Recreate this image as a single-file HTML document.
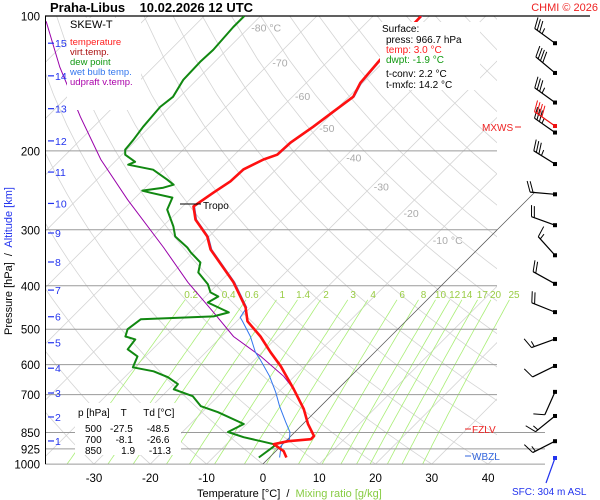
<!DOCTYPE html>
<html><head><meta charset="utf-8"><title>Skew-T Praha-Libus</title>
<style>
html,body{margin:0;padding:0;background:#fff;}
svg{display:block;font-family:"Liberation Sans",sans-serif;}
</style></head>
<body>
<svg id="chart" width="600" height="500" viewBox="0 0 600 500" xmlns="http://www.w3.org/2000/svg">
<defs>
<clipPath id="plotclip"><rect x="45" y="16" width="452" height="448"/></clipPath>
<clipPath id="mixclip"><rect x="45" y="16" width="490" height="448"/></clipPath>
</defs>
<rect x="0" y="0" width="600" height="500" fill="#ffffff"/>
<g id="grid" clip-path="url(#plotclip)"></g>
<g id="mix" clip-path="url(#mixclip)"></g>
<g id="plines"></g>
<g id="isolabels"></g>
<g id="series" clip-path="url(#mixclip)"></g>
<g id="axes"></g>
<g id="winds"></g>

<text x="50" y="12" font-size="13" font-weight="bold" fill="#000">Praha-Libus&#160;&#160;&#160; 10.02.2026 12 UTC</text>
<text x="598" y="11" font-size="11" fill="#ee2222" text-anchor="end">CHMI © 2026</text>

<g>
<rect x="67" y="18" width="74" height="92" fill="#fff"/>
<text x="70" y="28" font-size="11" fill="#000">SKEW-T</text>
<text x="70" y="45" font-size="9.5" fill="#ff2020">temperature</text>
<text x="70" y="55" font-size="9.5" fill="#aa1010">virt.temp.</text>
<text x="70" y="65" font-size="9.5" fill="#119911">dew point</text>
<text x="70" y="75" font-size="9.5" fill="#3377ee">wet bulb temp.</text>
<text x="70" y="85" font-size="9.5" fill="#aa00aa">udpraft v.temp.</text>
</g>

<g>
<rect x="380" y="22" width="100" height="68" fill="#fff"/>
<text x="382" y="32" font-size="10" fill="#000">Surface:</text>
<text x="386" y="43" font-size="10" fill="#000">press: 966.7 hPa</text>
<text x="386" y="53" font-size="10" fill="#ff2020">temp: 3.0 °C</text>
<text x="386" y="63" font-size="10" fill="#119911">dwpt: -1.9 °C</text>
<text x="386" y="77" font-size="10" fill="#000">t-conv: 2.2 °C</text>
<text x="386" y="88" font-size="10" fill="#000">t-mxfc: 14.2 °C</text>
</g>

<g>
<rect x="75" y="403" width="106" height="52" fill="#fff"/>
<text x="78" y="416" font-size="10" fill="#000">p [hPa]&#160;&#160;&#160; T&#160;&#160;&#160;&#160;&#160; Td [°C]</text>
<text x="85" y="432" font-size="10" fill="#000">500&#160;&#160; -27.5&#160;&#160;&#160;&#160; -48.5</text>
<text x="85" y="443" font-size="10" fill="#000">700&#160;&#160;&#160;&#160; -8.1&#160;&#160;&#160;&#160; -26.6</text>
<text x="85" y="454" font-size="10" fill="#000">850&#160;&#160;&#160;&#160;&#160;&#160; 1.9&#160;&#160;&#160;&#160; -11.3</text>
</g>

<g>
<line x1="465" y1="429" x2="471" y2="429" stroke="#ee2222"/>
<text x="472" y="433" font-size="10" fill="#ee2222">FZLV</text>
<line x1="465" y1="456" x2="471" y2="456" stroke="#3366dd"/>
<text x="472" y="460" font-size="10" fill="#3366dd">WBZL</text>
<text x="482" y="131" font-size="10" fill="#ee2222">MXWS</text>
<line x1="515" y1="127" x2="521" y2="127" stroke="#ee2222"/>
<text x="512" y="495" font-size="10" fill="#2233ee">SFC: 304 m ASL</text>
<line x1="180" y1="204" x2="201" y2="204" stroke="#000" stroke-width="1"/>
<text x="203" y="209" font-size="10" fill="#000">Tropo</text>
</g>

<text x="197" y="497" font-size="11" fill="#000">Temperature [°C]&#160; /&#160; <tspan fill="#88cc44">Mixing ratio [g/kg]</tspan></text>
<text transform="translate(12,335) rotate(-90)" font-size="11" fill="#000">Pressure [hPa]&#160; /&#160; <tspan fill="#2233ee">Altitude [km]</tspan></text>

<script>
// ---- data ----
const pressureTicks = [100,200,300,400,500,600,700,850,925,1000];
const tempTicks = [-30,-20,-10,0,10,20,30,40];
const altKm = [1,2,3,4,5,6,7,8,9,10,11,12,13,14,15];
const altPressure = [888,785,694,611,536,469,409,354,305,262,223,190,161,136,115];
const mixRatios = [0.2,0.4,0.6,1,1.4,2,3,4,6,8,10,12,14,17,20,25];
const isoLabelTemps = [-80,-70,-60,-50,-40,-30,-20,-10];
const isoLabelPress = [106,127,151,178,207,240,275,316];

const tempP = [100,125.3,141,151.5,163.6,176.7,191.8,204,209,220,234,248,259.6,266,284.7,310.6,332,393,447,480,519,563,605,681,754,814,866,880,889,903,936,966.7];
const tempT = [-51.5,-51.0,-50.4,-49.2,-50.1,-51.0,-52.2,-52.4,-54.0,-55.8,-56.0,-57.0,-57.7,-58.1,-55.4,-50.3,-47.4,-37.5,-30.9,-28.1,-23.1,-18.5,-14.2,-7.8,-2.5,0.9,4.1,4.1,0.4,-1.6,1.4,3.0];

const dewP = [100,105.8,119,126.6,138.8,151.5,159.5,176.7,188.9,198.8,204,211.5,214.7,220.3,231.9,237.9,241.6,245.3,247.9,254.3,270.4,295,310.6,328.6,337,355,373.6,397,413.9,422.6,435.8,458.6,468.1,475,500,519,527,554.5,575,608,620.7,640,663,681,705.6,742.7,766,814,848,871,889,903,912,966.7];
const dewT = [-82.9,-82.9,-82.4,-82.6,-82.4,-81.2,-81.7,-81.2,-80.6,-80.3,-79.4,-76.4,-77.1,-71.8,-67.5,-65.5,-66.8,-70.0,-68.2,-63.4,-62.2,-58.1,-56.0,-51.9,-50.4,-46.9,-45.5,-41.7,-39.8,-37.7,-38.5,-33.0,-35.0,-47.4,-48.0,-47.1,-44.8,-44.4,-41.4,-40.3,-35.9,-32.3,-29.3,-29.1,-24.5,-21.3,-17.2,-10.5,-11.9,-8.2,-4.4,-1.6,-1.2,-1.9];

const wetP = [100,125.3,141,151.5,163.6,176.7,191.8,204,209,220,234,248,259.6,266,284.7,310.6,332,393,447,470.5,480,519,563,584,637,691,743,806,848,880,893,926,966.7];
const wetT = [-51.6,-51.1,-50.5,-49.3,-50.2,-51.1,-52.3,-52.5,-54.1,-55.9,-56.1,-57.1,-57.8,-58.2,-55.5,-50.4,-47.5,-37.6,-31.0,-30.4,-29.3,-25.2,-21.5,-19.4,-14.7,-10.8,-7.6,-3.7,-1.2,0.0,-0.7,0.2,1.5];

const updP = [100,103.1,130,167.9,209,257,328.6,393,458.6,519,575,637,681];
const updT = [-119,-117,-106.6,-94.1,-82.9,-71.0,-56.1,-45.6,-35.7,-27.9,-19.5,-11.9,-7.8];

const windP = [115,134,156,182,214,250,293,342,396,458,526,604,690,781,889];
const windDir = [306,310,306,305,302,275,290,318,299,292,250,244,204,231,243];
const windSpd = [35,40,35,35,35,20,20,15,20,20,15,10,10,15,15];

// ---- axis functions ----
const Y = p => 16 + 194.6*Math.log(p/100);
const X = (T,p) => 263 + 5.63*T + (464 - Y(p));
const NS = "http://www.w3.org/2000/svg";
function mk(tag, attrs, parent){ const e=document.createElementNS(NS,tag); for(const k in attrs) e.setAttribute(k,attrs[k]); parent.appendChild(e); return e; }
function pts(P,T){ return P.map((p,i)=>X(T[i],p).toFixed(1)+","+Y(p).toFixed(1)).join(" "); }
const grid=document.getElementById('grid'), mix=document.getElementById('mix'), pl=document.getElementById('plines'),
 il=document.getElementById('isolabels'), ser=document.getElementById('series'), ax=document.getElementById('axes'), wd=document.getElementById('winds');

// isotherms
for(let t=-150;t<=40;t+=10){
  const l=mk('line',{x1:X(t,1000),y1:Y(1000),x2:X(t,100),y2:Y(100),stroke:'#d4d4d4','stroke-width':0.8},grid);
  
  
}
// dry adiabats
for(let th=-40;th<=220;th+=10){
  const P=[],T=[];
  for(let p=100;p<=1000;p+=25){P.push(p);T.push((th+273.15)*Math.pow(p/1000,0.286)-273.15);}
  const l=mk('polyline',{points:pts(P,T),fill:'none',stroke:'#d4d4d4','stroke-width':0.8},grid);
  
  
}
// 0C isotherm darker
const zl=mk('line',{x1:X(0,1000)-6,y1:470,x2:X(0,100),y2:Y(100),stroke:'#555','stroke-width':0.7},ser);



// mixing ratio lines
function tdOf(w,p){const e=w*p/(622+w);const a=Math.log(e/6.112);return 243.5*a/(17.67-a);}
mixRatios.forEach(w=>{
  const P=[],T=[];
  for(let p=430;p<=1000;p+=10){P.push(p);T.push(tdOf(w,p));}
  const l=mk('polyline',{points:pts(P,T),fill:'none',stroke:'#aaee77','stroke-width':0.8},mix);
  
  
  const tx=mk('text',{x:X(tdOf(w,412),412),y:298,'font-size':10,fill:'#99cc44','text-anchor':'middle'},il);
  tx.textContent=String(w);
  
  
});

// pressure lines & labels
pressureTicks.forEach(p=>{
  const y=Y(p);
  const right = p>=850?545:(p===100?590:497);
  const l=mk('line',{x1:45,y1:y,x2:right,y2:y,stroke:p===100?'#000':'#9a9a9a','stroke-width':p===100?1.3:1},pl);
  
  
  const t=mk('text',{x:40,y:y+4.5,'font-size':11.5,fill:'#000','text-anchor':'end'},ax);
  t.textContent=String(p);
  
  
});
// isotherm labels
isoLabelTemps.forEach((t,i)=>{
  const p=isoLabelPress[i];
  const tx=mk('text',{x:X(t,p)+2,y:Y(p)+4,'font-size':10.5,fill:'#aaaaaa','text-anchor':'start'},il);
  tx.textContent=(t===-80||t===-10)?(t+' °C'):String(t);
  
  
});
// temperature ticks
tempTicks.forEach(t=>{
  const tx=mk('text',{x:X(t,1000),y:482,'font-size':11.5,fill:'#000','text-anchor':'middle'},ax);
  tx.textContent=String(t);
  
  
});
// left axis line
const la=mk('line',{x1:45.5,y1:16,x2:45.5,y2:464,stroke:'#000','stroke-width':1},ax);


// altitude ticks
altKm.forEach((k,i)=>{
  const y=Y(altPressure[i]);
  const l=mk('line',{x1:48,y1:y,x2:54,y2:y,stroke:'#2233ee','stroke-width':1.2},ax);
  
  
  const t=mk('text',{x:55,y:y+4,'font-size':10.5,fill:'#2233ee'},ax);
  t.textContent=String(k);
  
  
});

// series
const up=mk('polyline',{points:pts(updP,updT),fill:'none',stroke:'#9900aa','stroke-width':1},ser);


const dw=mk('polyline',{points:pts(dewP,dewT),fill:'none',stroke:'#118811','stroke-width':2,'stroke-linejoin':'round'},ser);


const wb=mk('polyline',{points:pts(wetP,wetT.map(v=>v+0.3)),fill:'none',stroke:'#3377ee','stroke-width':1},ser);


const tl=mk('polyline',{points:pts(tempP,tempT),fill:'none',stroke:'#ff1010','stroke-width':2.6,'stroke-linejoin':'round'},ser);



// wind barbs
function barb(p,dir,spd,color,name){
  const g=mk('g',{},wd);
  
  
  const bx=555, by=Y(p), L=25, r=dir*Math.PI/180;
  const ux=Math.sin(r), uy=-Math.cos(r);
  const tx=bx+ux*L, ty=by+uy*L;
  mk('line',{x1:bx,y1:by,x2:tx,y2:ty,stroke:color,'stroke-width':1.2},g);
  mk('rect',{x:bx-2,y:by-2,width:4,height:4,fill:color},g);
  const a=80*Math.PI/180;
  const vx=ux*Math.cos(a)-uy*Math.sin(a), vy=ux*Math.sin(a)+uy*Math.cos(a);
  let s=spd, k=0;
  while(s>=10){const px=tx-ux*k*3, py=ty-uy*k*3; mk('line',{x1:px,y1:py,x2:px+vx*11+ux*2,y2:py+vy*11+uy*2,stroke:color,'stroke-width':1},g); s-=10;k++;}
  if(s>=5){const px=tx-ux*k*3, py=ty-uy*k*3; mk('line',{x1:px,y1:py,x2:px+vx*6,y2:py+vy*6,stroke:color,'stroke-width':1},g);}
}
windP.forEach((p,i)=>barb(p,windDir[i],windSpd[i],'#000','wind-barb'));
barb(176,305,40,'#ee1111','max-wind-barb');
const sfc=mk('line',{x1:555,y1:458,x2:546,y2:483,stroke:'#2233ee','stroke-width':1.2},wd);


const sfd=mk('rect',{x:553,y:456,width:4,height:4,fill:'#2233ee'},wd);


</script>
</svg>
</body></html>
